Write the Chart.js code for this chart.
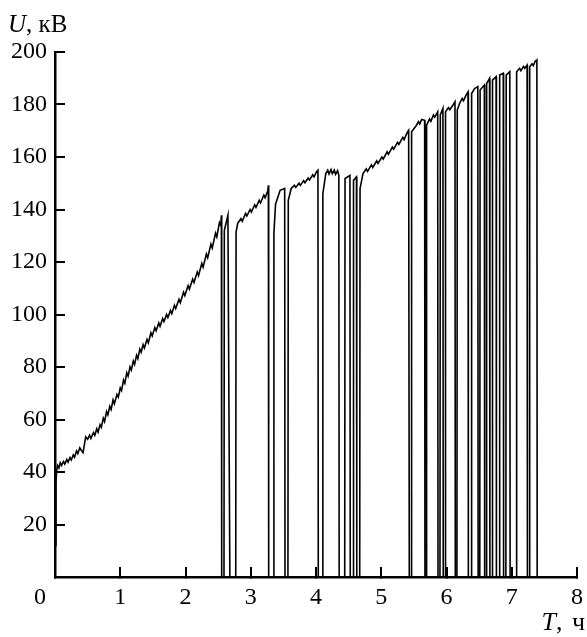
<!DOCTYPE html>
<html>
<head>
<meta charset="utf-8">
<script src="https://cdn.jsdelivr.net/npm/chart.js@4/dist/chart.umd.min.js"></script>
<style>
  html, body { margin: 0; padding: 0; background: #fff; }
  #wrap { position: relative; width: 587px; height: 637px; }
  .axis-title { position: absolute; font-family: "Liberation Serif", "Times New Roman", serif; font-size: 25px; line-height: 1; color: #000; white-space: nowrap; }
</style>
</head>
<body>
<div id="wrap">
  <canvas id="chart" width="587" height="637"></canvas>
  <div class="axis-title" style="left:8px; top:11px;"><i>U</i>, кВ</div>
  <div class="axis-title" style="right:2px; top:609px; font-size:26px; word-spacing:3px;"><i>T</i>, ч</div>
</div>
<script>
// --- DATA ---
const xTicks = [0, 1, 2, 3, 4, 5, 6, 7, 8];
const yTicks = [20, 40, 60, 80, 100, 120, 140, 160, 180, 200];

// time, hours (one line per stretch between breakdowns)
const timeH = [
  0.01, 0.015, 0.026, 0.04, 0.06, 0.08, 0.10, 0.13, 0.15, 0.18, 0.20, 0.23, 0.25, 0.28, 0.30, 0.33, 0.35, 0.38, 0.41, 0.43,
  0.47, 0.50, 0.53, 0.55, 0.59, 0.61, 0.64, 0.66, 0.69, 0.71, 0.74, 0.76, 0.79, 0.81, 0.84, 0.86, 0.89, 0.91, 0.95, 0.97,
  1.00, 1.02, 1.05, 1.07, 1.10, 1.12, 1.15, 1.17, 1.20, 1.22, 1.25, 1.27, 1.30, 1.32, 1.35, 1.37, 1.41, 1.43, 1.47, 1.49,
  1.53, 1.55, 1.59, 1.61, 1.65, 1.67, 1.71, 1.73, 1.77, 1.79, 1.83, 1.85, 1.90, 1.92, 1.97, 1.99, 2.04, 2.06, 2.11, 2.13,
  2.18, 2.20, 2.25, 2.27, 2.32, 2.34, 2.39, 2.41, 2.46, 2.48, 2.52, 2.54, 2.55, 2.555,
  2.59, 2.595, 2.65, 2.68, 2.77, 2.775,
  2.80, 2.85, 2.87, 2.92, 2.94, 2.99, 3.01, 3.06, 3.08, 3.13, 3.15, 3.20, 3.22, 3.26, 3.27, 3.275,
  3.35, 3.355, 3.38, 3.45, 3.52, 3.525, 3.57, 3.575,
  3.62, 3.67, 3.69, 3.74, 3.76, 3.81, 3.83, 3.88, 3.90, 3.95, 3.97, 4.01, 4.03, 4.035,
  4.10, 4.105, 4.15, 4.18, 4.20, 4.23, 4.25, 4.28, 4.30, 4.33, 4.35, 4.355,
  4.44, 4.445, 4.52, 4.525, 4.57, 4.575, 4.62, 4.625, 4.67, 4.675,
  4.72, 4.77, 4.79, 4.85, 4.87, 4.93, 4.95, 5.01, 5.03, 5.09, 5.11, 5.17, 5.19, 5.25, 5.27, 5.33, 5.35, 5.40, 5.42, 5.43,
  5.46, 5.465, 5.54, 5.57, 5.59, 5.62, 5.665, 5.67, 5.69, 5.695, 5.74, 5.76, 5.80, 5.82, 5.865, 5.87,
  5.90, 5.905, 5.945, 5.95, 5.98, 5.985, 6.03, 6.05, 6.10, 6.13, 6.135,
  6.16, 6.165, 6.20, 6.24, 6.26, 6.30, 6.33, 6.335,
  6.38, 6.385, 6.43, 6.48, 6.485, 6.51, 6.515, 6.58, 6.585, 6.61, 6.615, 6.66, 6.665,
  6.70, 6.705, 6.76, 6.765, 6.81, 6.815, 6.87, 6.875, 6.91, 6.915, 6.97, 6.975,
  7.07, 7.075, 7.12, 7.14, 7.18, 7.20, 7.235, 7.24,
  7.27, 7.275, 7.31, 7.33, 7.36, 7.385, 7.39
];

// voltage, kV
const voltageKV = [
  12, 36, 40.5, 42.5, 41.5, 43.5, 42.5, 44, 43, 44.8, 43.8, 45.5, 44.6, 46.5, 45.6, 48, 47, 49.2, 48, 47.4,
  53.4, 52.5, 54, 52.8, 55, 54, 56.5, 55.2, 58, 57, 60.5, 59.2, 63, 61.8, 65, 63.8, 67.5, 66, 69.5, 68.5,
  72, 71, 75, 73.8, 77.8, 76.5, 80, 78.8, 82.3, 81, 84.5, 83.2, 86.8, 85.6, 88.5, 87.2, 90.5, 89.2, 93, 91.8,
  95, 93.8, 96.8, 95.5, 98.5, 97.3, 100, 98.8, 101.5, 100.3, 103.5, 102.3, 105.8, 104.5, 108.5, 107.2, 111, 109.7, 113.5, 112.2,
  116.2, 114.8, 119.5, 118, 123, 121.6, 126.8, 125.3, 131, 129.6, 135, 134, 137.8, 0,
  0, 132, 137.8, 0, 0, 131.4,
  134.7, 136.5, 135.5, 138.5, 137.5, 140, 139, 141.8, 140.8, 143.5, 142.5, 145.5, 144.5, 147, 149.2, 0,
  0, 131, 142, 147.3, 148, 0, 0, 143.5,
  148, 149.2, 148.4, 150, 149.2, 151, 150.2, 152, 151.2, 153.2, 152.4, 154.5, 155, 0,
  0, 146, 153.7, 155, 153.5, 155.2, 153.6, 155, 153.4, 154.8, 153, 0,
  0, 151.8, 153, 0, 0, 151.1, 152.4, 0, 0, 148,
  153.7, 155.5, 154.5, 157, 156, 158.5, 157.6, 160, 159.2, 162, 161, 163.8, 163, 165.6, 164.8, 167.5, 166.6, 169.5, 170.2, 0,
  0, 169.6, 172.1, 173.5, 172.6, 174.3, 174, 0, 0, 172.1, 174.5, 173.6, 176, 175.2, 177.2, 0,
  0, 176, 178.5, 0, 0, 177.2, 178.8, 178, 179.8, 181, 0,
  0, 177.9, 180.4, 182.3, 181.4, 183.6, 184.8, 0,
  0, 184.2, 186.1, 186.8, 0, 0, 185.5, 187.4, 0, 0, 188, 190, 0,
  0, 189.3, 190.6, 0, 0, 191.2, 191.9, 0, 0, 191.2, 192.5, 0,
  0, 192.5, 193.8, 192.9, 194.5, 193.8, 195, 0,
  0, 194.4, 195.5, 194.8, 196.5, 197, 0
];

// --- CHART SETUP ---
const serif = "'Liberation Serif', 'Times New Roman', serif";

// the "0" of the time axis sits left of the corner
const cornerZero = {
  id: 'cornerZero',
  afterDraw(chart) {
    const ctx = chart.ctx;
    const xs = chart.scales.x;
    ctx.save();
    ctx.font = '24px ' + serif;
    ctx.fillStyle = '#000';
    ctx.textAlign = 'center';
    ctx.textBaseline = 'middle';
    ctx.fillText('0', xs.getPixelForValue(0) - 15, xs.top + 20.5);
    ctx.restore();
  }
};

// keep tick-label padding from shrinking the plot area
function fixScale(s, size) {
  if (s.isHorizontal()) s.height = size; else s.width = size;
  s.paddingLeft = 0;
  s.paddingRight = 0;
  s.paddingTop = 0;
  s.paddingBottom = 0;
}

const ctx = document.getElementById('chart').getContext('2d');
new Chart(ctx, {
  type: 'line',
  data: {
    datasets: [{
      data: timeH.map((t, i) => ({ x: t, y: voltageKV[i] })),
      borderColor: '#000',
      borderWidth: 1.6,
      pointRadius: 0,
      tension: 0,
      fill: false
    }]
  },
  options: {
    responsive: false,
    animation: false,
    layout: { padding: { left: 0, right: 10, top: 52, bottom: 20 } },
    plugins: { legend: { display: false }, tooltip: { enabled: false } },
    scales: {
      x: {
        type: 'linear',
        min: 0,
        max: 8,
        afterBuildTicks: (s) => { s.ticks = xTicks.map(v => ({ value: v })); },
        afterFit: (s) => fixScale(s, 40),
        border: { color: '#000', width: 2.5 },
        grid: { drawOnChartArea: false, drawTicks: true, tickLength: -10, color: '#000', lineWidth: 2 },
        ticks: {
          color: '#000',
          font: { family: serif, size: 24 },
          padding: 16,
          maxRotation: 0,
          callback: (v) => (v === 0 ? '' : String(v))
        }
      },
      y: {
        min: 0,
        max: 200,
        afterBuildTicks: (s) => { s.ticks = [0].concat(yTicks).map(v => ({ value: v })); },
        afterFit: (s) => fixScale(s, 55),
        border: { color: '#000', width: 2.5 },
        grid: { drawOnChartArea: false, drawTicks: true, tickLength: -10, color: '#000', lineWidth: 2 },
        ticks: {
          color: '#000',
          font: { family: serif, size: 24 },
          padding: 18,
          callback: (v) => (v === 0 ? '' : String(v))
        }
      }
    }
  },
  plugins: [cornerZero]
});
</script>
</body>
</html>
